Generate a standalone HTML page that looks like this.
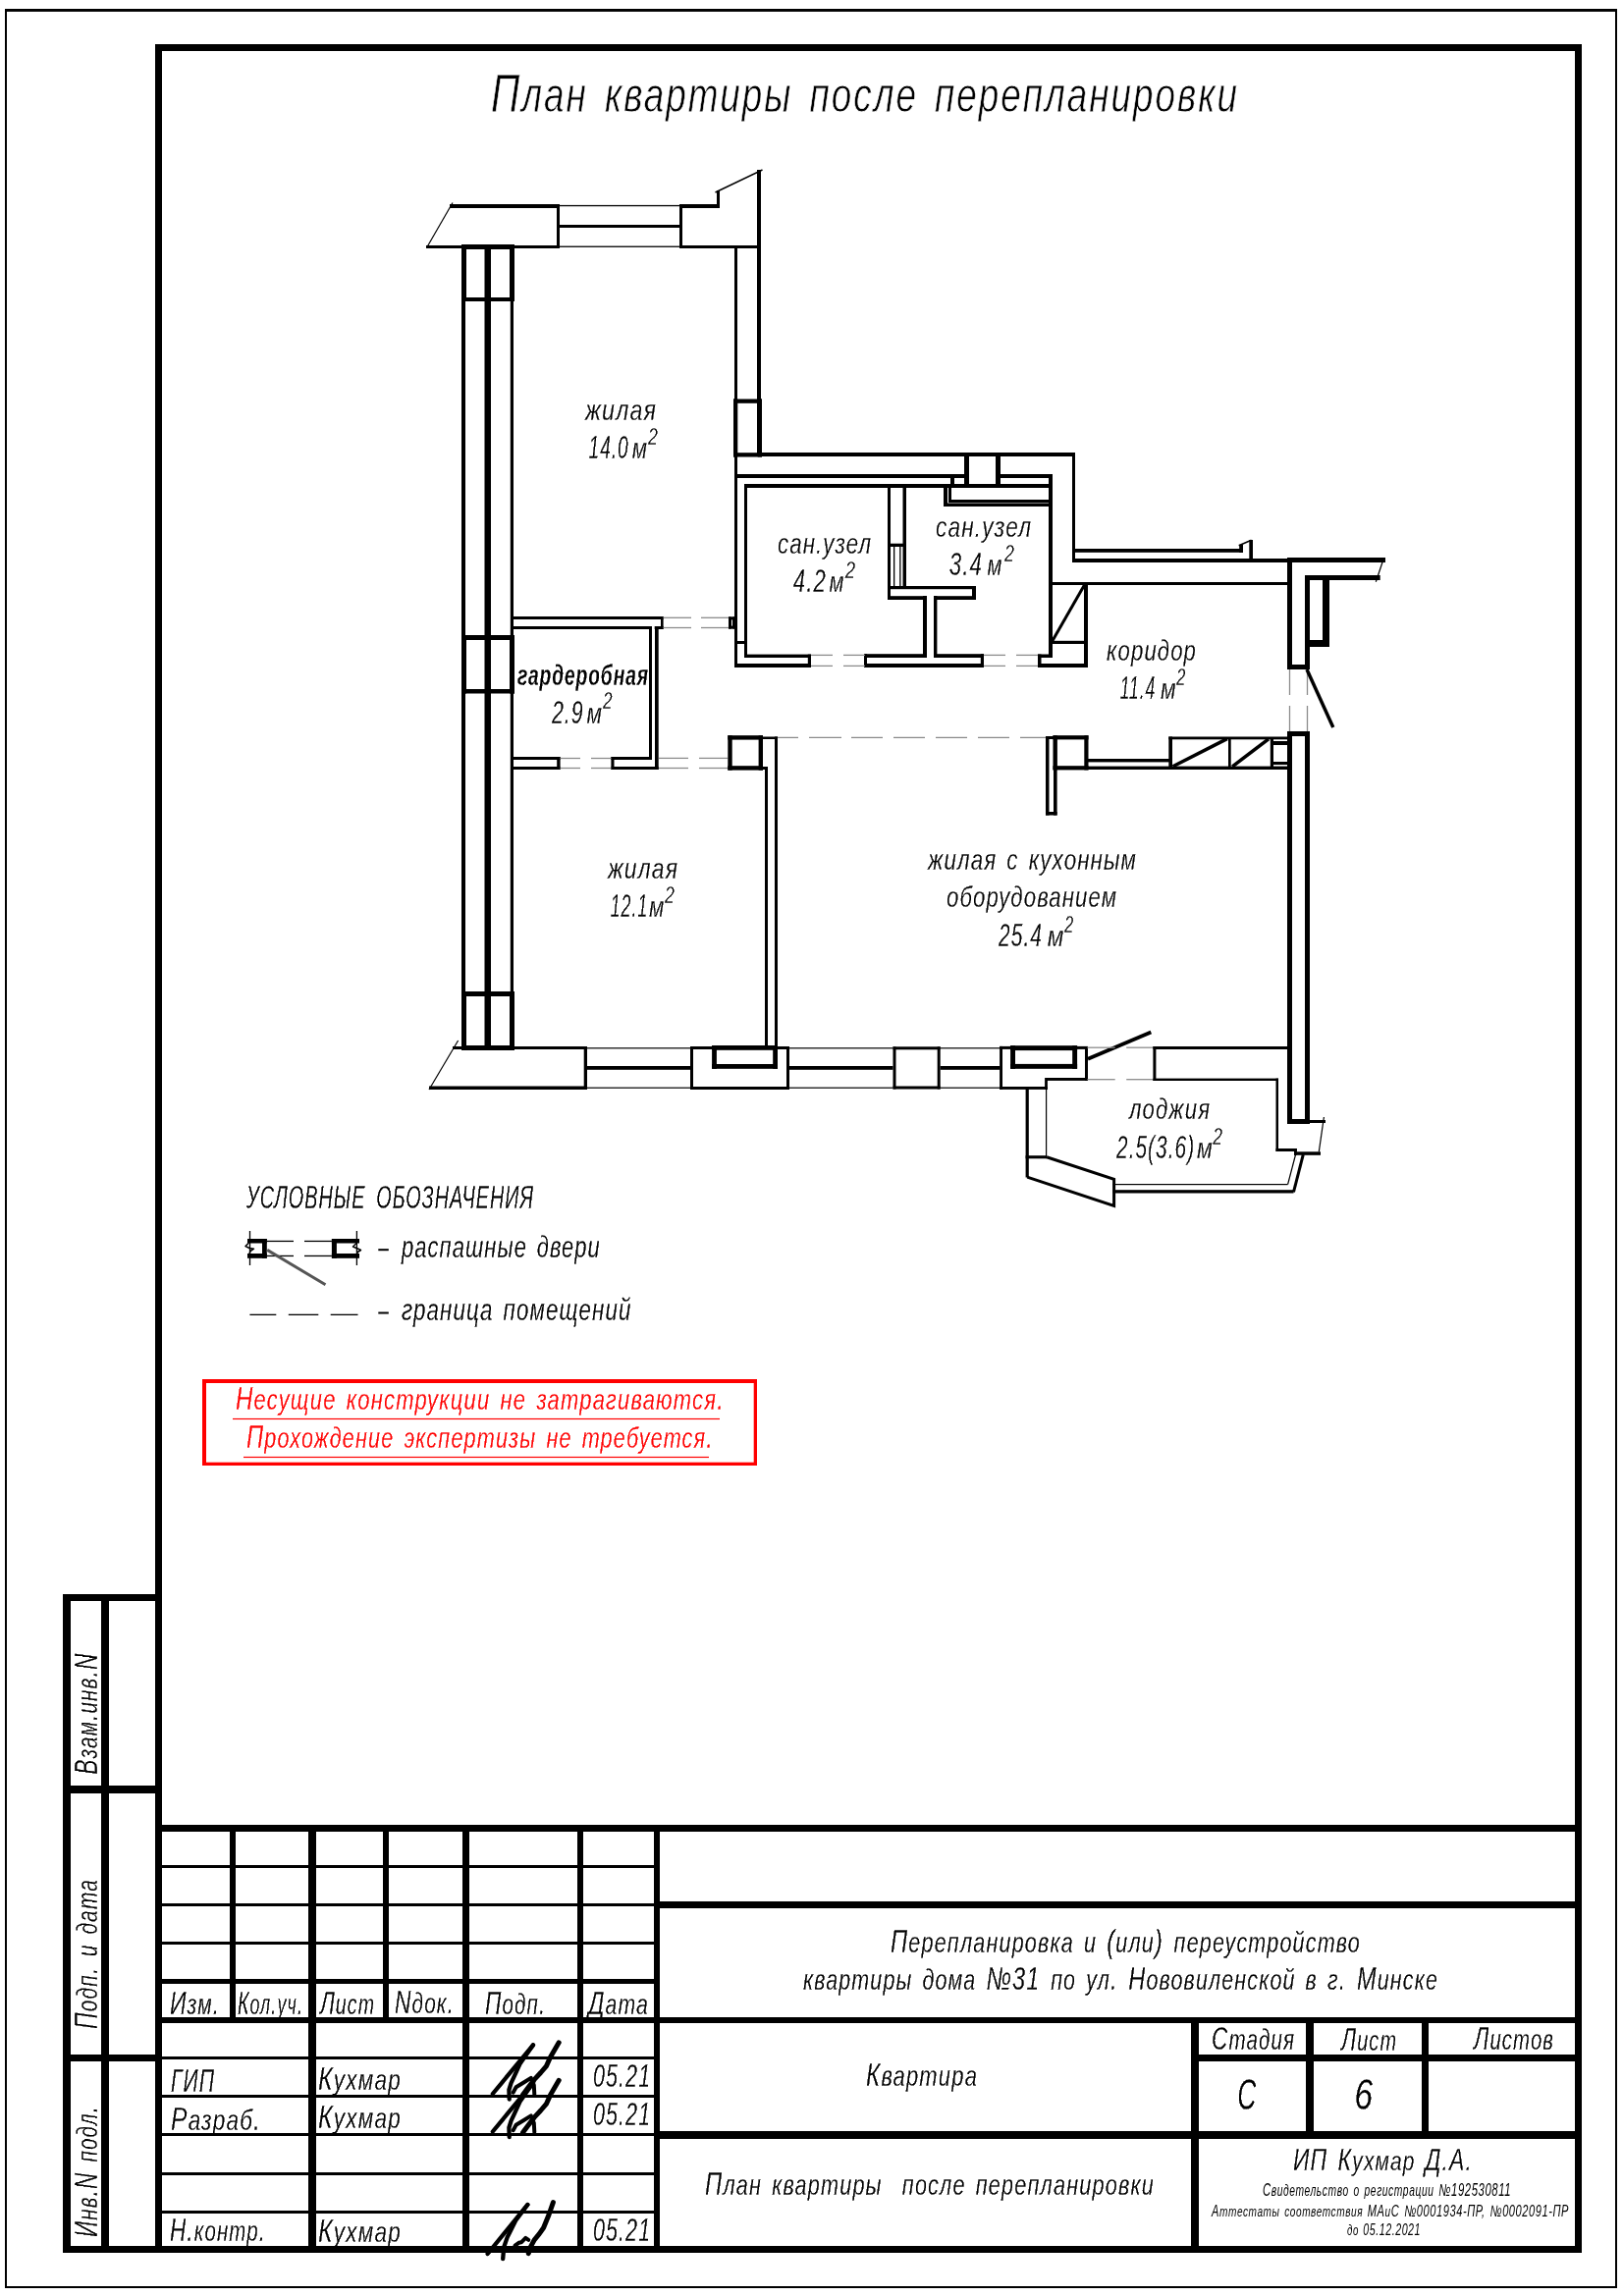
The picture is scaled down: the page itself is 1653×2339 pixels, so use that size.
<!DOCTYPE html>
<html><head><meta charset="utf-8"><title>План квартиры после перепланировки</title>
<style>html,body{margin:0;padding:0;background:#fff;}svg{display:block;will-change:transform;}
text{font-family:"Liberation Sans",sans-serif;font-style:italic;white-space:pre;letter-spacing:0.05em;word-spacing:0.12em;}</style></head>
<body><svg width="1653" height="2339" viewBox="0 0 1653 2339" shape-rendering="auto">
<rect x="0" y="0" width="1653" height="2339" fill="#fff"/>
<defs><filter id="bin" x="0" y="0" width="1653" height="2339" filterUnits="userSpaceOnUse" color-interpolation-filters="sRGB"><feComponentTransfer><feFuncA type="discrete" tableValues="0 0 1 1"/></feComponentTransfer></filter></defs><g filter="url(#bin)">
<text x="499.99" y="114" font-size="55" font-weight="normal" fill="#000" stroke="#fff" stroke-width="0.8" textLength="762.03" lengthAdjust="spacingAndGlyphs">П<tspan font-size="50.05">лан квартиры после перепланировки</tspan></text>
<text x="172.88" y="2052" font-size="33" font-weight="normal" fill="#000" stroke="#fff" stroke-width="0.3" textLength="51.5" lengthAdjust="spacingAndGlyphs">И<tspan font-size="30.03">зм</tspan>.</text>
<text x="241.93" y="2052" font-size="33" font-weight="normal" fill="#000" stroke="#fff" stroke-width="0.3" textLength="67.25" lengthAdjust="spacingAndGlyphs">К<tspan font-size="30.03">ол</tspan>.<tspan font-size="30.03">уч</tspan>.</text>
<text x="326.02" y="2052" font-size="33" font-weight="normal" fill="#000" stroke="#fff" stroke-width="0.3" textLength="56.06" lengthAdjust="spacingAndGlyphs">Л<tspan font-size="30.03">ист</tspan></text>
<text x="401.91" y="2051" font-size="33" font-weight="normal" fill="#000" stroke="#fff" stroke-width="0.3" textLength="61.4" lengthAdjust="spacingAndGlyphs">N<tspan font-size="30.03">док</tspan>.</text>
<text x="493.91" y="2052" font-size="33" font-weight="normal" fill="#000" stroke="#fff" stroke-width="0.3" textLength="62.4" lengthAdjust="spacingAndGlyphs">П<tspan font-size="30.03">одп</tspan>.</text>
<text x="598.95" y="2052" font-size="33" font-weight="normal" fill="#000" stroke="#fff" stroke-width="0.3" textLength="62.1" lengthAdjust="spacingAndGlyphs">Д<tspan font-size="30.03">ата</tspan></text>
<text x="173.95" y="2131" font-size="33" font-weight="normal" fill="#000" stroke="#fff" stroke-width="0.3" textLength="45.12" lengthAdjust="spacingAndGlyphs">ГИП</text>
<text x="173.94" y="2170" font-size="33" font-weight="normal" fill="#000" stroke="#fff" stroke-width="0.3" textLength="92.28" lengthAdjust="spacingAndGlyphs">Р<tspan font-size="30.03">азраб</tspan>.</text>
<text x="172.94" y="2283" font-size="33" font-weight="normal" fill="#000" stroke="#fff" stroke-width="0.3" textLength="98.28" lengthAdjust="spacingAndGlyphs">Н.<tspan font-size="30.03">контр</tspan>.</text>
<text x="323.96" y="2129" font-size="33" font-weight="normal" fill="#000" stroke="#fff" stroke-width="0.3" textLength="85.11" lengthAdjust="spacingAndGlyphs">К<tspan font-size="30.03">ухмар</tspan></text>
<text x="323.96" y="2168" font-size="33" font-weight="normal" fill="#000" stroke="#fff" stroke-width="0.3" textLength="85.11" lengthAdjust="spacingAndGlyphs">К<tspan font-size="30.03">ухмар</tspan></text>
<text x="323.96" y="2284" font-size="33" font-weight="normal" fill="#000" stroke="#fff" stroke-width="0.3" textLength="85.11" lengthAdjust="spacingAndGlyphs">К<tspan font-size="30.03">ухмар</tspan></text>
<text x="603.92" y="2126" font-size="33" font-weight="normal" fill="#000" stroke="#fff" stroke-width="0.3" textLength="59.29" lengthAdjust="spacingAndGlyphs">05.21</text>
<text x="603.92" y="2164.5" font-size="33" font-weight="normal" fill="#000" stroke="#fff" stroke-width="0.3" textLength="59.29" lengthAdjust="spacingAndGlyphs">05.21</text>
<text x="603.92" y="2283" font-size="33" font-weight="normal" fill="#000" stroke="#fff" stroke-width="0.3" textLength="59.29" lengthAdjust="spacingAndGlyphs">05.21</text>
<text x="906.99" y="1989" font-size="33" font-weight="normal" fill="#000" stroke="#fff" stroke-width="0.3" textLength="479.01" lengthAdjust="spacingAndGlyphs">П<tspan font-size="30.03">ерепланировка и </tspan>(<tspan font-size="30.03">или</tspan>) <tspan font-size="30.03">переустройство</tspan></text>
<text x="818.0" y="2027" font-size="33" font-weight="normal" fill="#000" stroke="#fff" stroke-width="0.3" textLength="647.02" lengthAdjust="spacingAndGlyphs"><tspan font-size="30.03">квартиры дома </tspan>№31 <tspan font-size="30.03">по ул</tspan>. Н<tspan font-size="30.03">ововиленской в г</tspan>. М<tspan font-size="30.03">инске</tspan></text>
<text x="1233.95" y="2088" font-size="33" font-weight="normal" fill="#000" stroke="#fff" stroke-width="0.3" textLength="85.1" lengthAdjust="spacingAndGlyphs">С<tspan font-size="30.03">тадия</tspan></text>
<text x="1366.02" y="2089" font-size="33" font-weight="normal" fill="#000" stroke="#fff" stroke-width="0.3" textLength="57.06" lengthAdjust="spacingAndGlyphs">Л<tspan font-size="30.03">ист</tspan></text>
<text x="1501.01" y="2088" font-size="33" font-weight="normal" fill="#000" stroke="#fff" stroke-width="0.3" textLength="82.05" lengthAdjust="spacingAndGlyphs">Л<tspan font-size="30.03">истов</tspan></text>
<text x="1260.24" y="2149" font-size="45" font-weight="normal" fill="#000" stroke="#fff" stroke-width="0.3" textLength="20.49" lengthAdjust="spacingAndGlyphs">С</text>
<text x="1379.41" y="2148.7" font-size="44" font-weight="normal" fill="#000" stroke="#fff" stroke-width="0.3" textLength="20.16" lengthAdjust="spacingAndGlyphs">6</text>
<text x="881.97" y="2125" font-size="33" font-weight="normal" fill="#000" stroke="#fff" stroke-width="0.3" textLength="114.08" lengthAdjust="spacingAndGlyphs">К<tspan font-size="30.03">вартира</tspan></text>
<text x="717.99" y="2236" font-size="33" font-weight="normal" fill="#000" stroke="#fff" stroke-width="0.3" textLength="458.02" lengthAdjust="spacingAndGlyphs">П<tspan font-size="30.03">лан квартиры  после перепланировки</tspan></text>
<text x="1316.97" y="2211" font-size="31" font-weight="normal" fill="#000" stroke="#fff" stroke-width="0.3" textLength="183.12" lengthAdjust="spacingAndGlyphs">ИП К<tspan font-size="28.21">ухмар </tspan>Д.А.</text>
<text x="595.97" y="428" font-size="30" font-weight="normal" fill="#000" stroke="#fff" stroke-width="0.35" textLength="73.18" lengthAdjust="spacingAndGlyphs">жилая</text>
<text x="599.6" y="467" font-size="33.5" font-weight="normal" fill="#000" stroke="#fff" stroke-width="0.35" textLength="41.0" lengthAdjust="spacingAndGlyphs">14.0</text>
<text x="643.63" y="467" font-size="30" font-weight="normal" fill="#000" stroke="#fff" stroke-width="0.35" textLength="16.33" lengthAdjust="spacingAndGlyphs">м</text>
<text x="660.0" y="453" font-size="23" font-weight="normal" fill="#000" stroke="#fff" stroke-width="0.3" textLength="10.72" lengthAdjust="spacingAndGlyphs">2</text>
<text x="791.97" y="564" font-size="30" font-weight="normal" fill="#000" stroke="#fff" stroke-width="0.35" textLength="96.12" lengthAdjust="spacingAndGlyphs">сан.узел</text>
<text x="807.83" y="603" font-size="33.5" font-weight="normal" fill="#000" stroke="#fff" stroke-width="0.35" textLength="34.09" lengthAdjust="spacingAndGlyphs">4.2</text>
<text x="844.59" y="603" font-size="30" font-weight="normal" fill="#000" stroke="#fff" stroke-width="0.35" textLength="16.03" lengthAdjust="spacingAndGlyphs">м</text>
<text x="860.69" y="589.1" font-size="23" font-weight="normal" fill="#000" stroke="#fff" stroke-width="0.3" textLength="11.23" lengthAdjust="spacingAndGlyphs">2</text>
<text x="952.97" y="547" font-size="30" font-weight="normal" fill="#000" stroke="#fff" stroke-width="0.35" textLength="98.1" lengthAdjust="spacingAndGlyphs">сан.узел</text>
<text x="966.76" y="586" font-size="33.5" font-weight="normal" fill="#000" stroke="#fff" stroke-width="0.35" textLength="34.26" lengthAdjust="spacingAndGlyphs">3.4</text>
<text x="1005.59" y="586" font-size="30" font-weight="normal" fill="#000" stroke="#fff" stroke-width="0.35" textLength="16.03" lengthAdjust="spacingAndGlyphs">м</text>
<text x="1023.1" y="571.9" font-size="23" font-weight="normal" fill="#000" stroke="#fff" stroke-width="0.3" textLength="10.72" lengthAdjust="spacingAndGlyphs">2</text>
<text x="526.98" y="698" font-size="30" font-weight="bold" fill="#000" stroke="#fff" stroke-width="0.35" textLength="134.05" lengthAdjust="spacingAndGlyphs">гардеробная</text>
<text x="561.9" y="737" font-size="33.5" font-weight="normal" fill="#000" stroke="#fff" stroke-width="0.35" textLength="32.93" lengthAdjust="spacingAndGlyphs">2.9</text>
<text x="597.46" y="737" font-size="30" font-weight="normal" fill="#000" stroke="#fff" stroke-width="0.35" textLength="16.63" lengthAdjust="spacingAndGlyphs">м</text>
<text x="614.1" y="721.9" font-size="23" font-weight="normal" fill="#000" stroke="#fff" stroke-width="0.3" textLength="10.49" lengthAdjust="spacingAndGlyphs">2</text>
<text x="1126.98" y="672.5" font-size="30" font-weight="normal" fill="#000" stroke="#fff" stroke-width="0.35" textLength="92.08" lengthAdjust="spacingAndGlyphs">коридор</text>
<text x="1140.83" y="711.8" font-size="33.5" font-weight="normal" fill="#000" stroke="#fff" stroke-width="0.35" textLength="36.17" lengthAdjust="spacingAndGlyphs">11.4</text>
<text x="1181.96" y="711.8" font-size="30" font-weight="normal" fill="#000" stroke="#fff" stroke-width="0.35" textLength="16.73" lengthAdjust="spacingAndGlyphs">м</text>
<text x="1198.09" y="697.9" font-size="23" font-weight="normal" fill="#000" stroke="#fff" stroke-width="0.3" textLength="10.25" lengthAdjust="spacingAndGlyphs">2</text>
<text x="618.97" y="895" font-size="30" font-weight="normal" fill="#000" stroke="#fff" stroke-width="0.35" textLength="72.1" lengthAdjust="spacingAndGlyphs">жилая</text>
<text x="621.81" y="933.7" font-size="33.5" font-weight="normal" fill="#000" stroke="#fff" stroke-width="0.35" textLength="38.28" lengthAdjust="spacingAndGlyphs">12.1</text>
<text x="660.91" y="933.7" font-size="30" font-weight="normal" fill="#000" stroke="#fff" stroke-width="0.35" textLength="16.42" lengthAdjust="spacingAndGlyphs">м</text>
<text x="677.1" y="919.9" font-size="23" font-weight="normal" fill="#000" stroke="#fff" stroke-width="0.3" textLength="10.72" lengthAdjust="spacingAndGlyphs">2</text>
<text x="945.0" y="886" font-size="30" font-weight="normal" fill="#000" stroke="#fff" stroke-width="0.35" textLength="213.03" lengthAdjust="spacingAndGlyphs">жилая с кухонным</text>
<text x="963.98" y="924.3" font-size="30" font-weight="normal" fill="#000" stroke="#fff" stroke-width="0.35" textLength="174.06" lengthAdjust="spacingAndGlyphs">оборудованием</text>
<text x="1017.0" y="963.8" font-size="33.5" font-weight="normal" fill="#000" stroke="#fff" stroke-width="0.35" textLength="45.0" lengthAdjust="spacingAndGlyphs">25.4</text>
<text x="1066.73" y="963.8" font-size="30" font-weight="normal" fill="#000" stroke="#fff" stroke-width="0.35" textLength="17.82" lengthAdjust="spacingAndGlyphs">м</text>
<text x="1084.0" y="950" font-size="23" font-weight="normal" fill="#000" stroke="#fff" stroke-width="0.3" textLength="10.12" lengthAdjust="spacingAndGlyphs">2</text>
<text x="1149.98" y="1139.5" font-size="30" font-weight="normal" fill="#000" stroke="#fff" stroke-width="0.35" textLength="83.13" lengthAdjust="spacingAndGlyphs">лоджия</text>
<text x="1137.0" y="1179.8" font-size="33.5" font-weight="normal" fill="#000" stroke="#fff" stroke-width="0.35" textLength="80.13" lengthAdjust="spacingAndGlyphs">2.5(3.6)</text>
<text x="1218.96" y="1179.8" font-size="30" font-weight="normal" fill="#000" stroke="#fff" stroke-width="0.35" textLength="16.95" lengthAdjust="spacingAndGlyphs">м</text>
<text x="1235.26" y="1166.1" font-size="23" font-weight="normal" fill="#000" stroke="#fff" stroke-width="0.3" textLength="10.57" lengthAdjust="spacingAndGlyphs">2</text>
<text x="250.99" y="1230.5" font-size="33.5" font-weight="normal" fill="#000" stroke="#fff" stroke-width="0.3" style="word-spacing:0.22em" textLength="293.02" lengthAdjust="spacingAndGlyphs">УСЛОВНЫЕ ОБОЗНАЧЕНИЯ</text>
<text x="409.0" y="1281" font-size="31" font-weight="normal" fill="#000" stroke="#fff" stroke-width="0.3" textLength="202.85" lengthAdjust="spacingAndGlyphs">распашные двери</text>
<text x="408.99" y="1344.5" font-size="31" font-weight="normal" fill="#000" stroke="#fff" stroke-width="0.3" textLength="234.45" lengthAdjust="spacingAndGlyphs">граница помещений</text>
<text x="239.99" y="1436" font-size="33" font-weight="normal" fill="#f00" stroke="#fff" stroke-width="0.3" textLength="498.06" lengthAdjust="spacingAndGlyphs">Н<tspan font-size="30.03">есущие конструкции не затрагиваются</tspan>.</text>
<text x="250.99" y="1475" font-size="33" font-weight="normal" fill="#f00" stroke="#fff" stroke-width="0.3" textLength="476.06" lengthAdjust="spacingAndGlyphs">П<tspan font-size="30.03">рохождение экспертизы не требуется</tspan>.</text>
<text transform="translate(99,1807.6949719913707) rotate(-90)" x="0" y="0" font-size="33" font-weight="normal" fill="#000" stroke="#fff" stroke-width="0.3" textLength="124.22" lengthAdjust="spacingAndGlyphs">В<tspan font-size="30.03">зам</tspan>.<tspan font-size="30.03">инв</tspan>.N</text>
<text transform="translate(99,2067.006438692137) rotate(-90)" x="0" y="0" font-size="33" font-weight="normal" fill="#000" stroke="#fff" stroke-width="0.3" textLength="153.06" lengthAdjust="spacingAndGlyphs">П<tspan font-size="30.03">одп</tspan>. <tspan font-size="30.03">и дата</tspan></text>
<text transform="translate(99,2279.0963912821094) rotate(-90)" x="0" y="0" font-size="33" font-weight="normal" fill="#000" stroke="#fff" stroke-width="0.3" textLength="134.23" lengthAdjust="spacingAndGlyphs">И<tspan font-size="30.03">нв</tspan>.N <tspan font-size="30.03">подл</tspan>.</text>
</g>
<text x="1285.99" y="2237" font-size="17.5" font-weight="normal" fill="#000" textLength="253.03" lengthAdjust="spacingAndGlyphs">С<tspan font-size="15.93">видетельство о регистрации </tspan>№192530811</text>
<text x="1234.0" y="2258" font-size="16.5" font-weight="normal" fill="#000" textLength="364.0" lengthAdjust="spacingAndGlyphs">А<tspan font-size="15.02">ттестаты соответствия </tspan>МА<tspan font-size="15.02">и</tspan>С №0001934-ПР, №0002091-ПР</text>
<text x="1372.0" y="2277" font-size="16" font-weight="normal" fill="#000" textLength="75.06" lengthAdjust="spacingAndGlyphs"><tspan font-size="14.56">до </tspan>05.12.2021</text>
<rect x="5" y="9" width="1642" height="2.9" fill="#000"/>
<rect x="5" y="9" width="2" height="2322" fill="#000"/>
<rect x="1645" y="9" width="2" height="2322" fill="#000"/>
<rect x="5" y="2329" width="1642" height="2" fill="#000"/>
<rect x="158" y="45" width="1453" height="7" fill="#000"/>
<rect x="158" y="45" width="7" height="2250" fill="#000"/>
<rect x="1604" y="45" width="7" height="2250" fill="#000"/>
<rect x="158" y="2288" width="1453" height="7" fill="#000"/>
<rect x="64" y="1624" width="8" height="671" fill="#000"/>
<rect x="103" y="1624" width="8" height="671" fill="#000"/>
<rect x="64" y="1624" width="101" height="7" fill="#000"/>
<rect x="64" y="1819" width="101" height="8" fill="#000"/>
<rect x="64" y="2093" width="101" height="7" fill="#000"/>
<rect x="64" y="2288" width="101" height="7" fill="#000"/>
<rect x="158" y="1859" width="1453" height="7" fill="#000"/>
<rect x="234" y="1859" width="6" height="202" fill="#000"/>
<rect x="314" y="1859" width="8" height="436" fill="#000"/>
<rect x="390" y="1859" width="6" height="202" fill="#000"/>
<rect x="471" y="1859" width="7" height="436" fill="#000"/>
<rect x="588" y="1859" width="6" height="436" fill="#000"/>
<rect x="666" y="1859" width="6" height="436" fill="#000"/>
<rect x="165" y="1900" width="501" height="3" fill="#000"/>
<rect x="165" y="1939" width="501" height="3" fill="#000"/>
<rect x="165" y="1978" width="501" height="3" fill="#000"/>
<rect x="165" y="2016" width="507" height="5" fill="#000"/>
<rect x="165" y="2055" width="1439" height="6" fill="#000"/>
<rect x="165" y="2095" width="501" height="3" fill="#000"/>
<rect x="165" y="2134" width="501" height="3" fill="#000"/>
<rect x="165" y="2173" width="501" height="3" fill="#000"/>
<rect x="165" y="2213" width="501" height="3" fill="#000"/>
<rect x="165" y="2252" width="501" height="3" fill="#000"/>
<rect x="672" y="1937" width="932" height="7" fill="#000"/>
<rect x="1221" y="2093" width="383" height="7" fill="#000"/>
<rect x="672" y="2171" width="932" height="8" fill="#000"/>
<rect x="1213" y="2055" width="8" height="240" fill="#000"/>
<rect x="1330" y="2055" width="8" height="116" fill="#000"/>
<rect x="1448" y="2055" width="7" height="116" fill="#000"/>
<polyline points="501.8,2133 543,2083.3" fill="none" stroke="#000" stroke-width="4.3" stroke-linecap="round" stroke-linejoin="round"/>
<polyline points="518.7,2138.5 518.4,2129 520.6,2121.8 524.6,2113.4 529.5,2102.6 543,2083.3" fill="none" stroke="#000" stroke-width="4.3" stroke-linecap="round" stroke-linejoin="round"/>
<polyline points="522.6,2131.7 525.6,2126.3 533.4,2121.5 540.8,2116.9 543.8,2124.3 544.3,2133.6" fill="none" stroke="#000" stroke-width="4" stroke-linecap="round" stroke-linejoin="round"/>
<polyline points="532.5,2134 537.9,2126.7 544.3,2118.4 550.7,2111.5 556.6,2104.6 560.5,2095.7 569.2,2080.8" fill="none" stroke="#000" stroke-width="5" stroke-linecap="round" stroke-linejoin="round"/>
<polyline points="501.8,2171.5 543,2121.8" fill="none" stroke="#000" stroke-width="4.3" stroke-linecap="round" stroke-linejoin="round"/>
<polyline points="518.7,2177.0 518.4,2167.5 520.6,2160.3 524.6,2151.9 529.5,2141.1 543,2121.8" fill="none" stroke="#000" stroke-width="4.3" stroke-linecap="round" stroke-linejoin="round"/>
<polyline points="522.6,2170.2 525.6,2164.8 533.4,2160.0 540.8,2155.4 543.8,2162.8 544.3,2172.1" fill="none" stroke="#000" stroke-width="4" stroke-linecap="round" stroke-linejoin="round"/>
<polyline points="532.5,2172.5 537.9,2165.2 544.3,2156.9 550.7,2150.0 556.6,2143.1 560.5,2134.2 569.2,2119.3" fill="none" stroke="#000" stroke-width="5" stroke-linecap="round" stroke-linejoin="round"/>
<polyline points="496.6,2296 537.3,2246" fill="none" stroke="#000" stroke-width="4.3" stroke-linecap="round" stroke-linejoin="round"/>
<polyline points="512.2,2301 513.2,2289.2 516.6,2279.4 521.5,2269.5 525.5,2261.6 537.3,2246" fill="none" stroke="#000" stroke-width="4.3" stroke-linecap="round" stroke-linejoin="round"/>
<polyline points="524.5,2287.7 528.4,2284.8 530.9,2284.3 535.3,2279.8 538.3,2281.8" fill="none" stroke="#000" stroke-width="4" stroke-linecap="round" stroke-linejoin="round"/>
<polyline points="538.3,2295.6 540.3,2289.2 544.2,2281.8 549.1,2275.9 553.6,2269.5 559,2256.2 563.4,2243.6" fill="none" stroke="#000" stroke-width="5" stroke-linecap="round" stroke-linejoin="round"/>
<rect x="458" y="208" width="112" height="4" fill="#000"/>
<line x1="461" y1="206.5" x2="434.5" y2="252.5" stroke="#000" stroke-width="1.2" stroke-linecap="butt"/>
<rect x="434" y="250" width="136" height="3" fill="#000"/>
<rect x="567" y="208" width="3" height="45" fill="#000"/>
<rect x="570" y="208.9" width="122" height="1.3" fill="#000"/>
<rect x="570" y="229" width="122" height="3" fill="#000"/>
<rect x="570" y="250.6" width="122" height="1.3" fill="#000"/>
<rect x="692" y="208" width="3" height="45" fill="#000"/>
<rect x="692" y="208" width="41" height="4" fill="#000"/>
<rect x="730" y="194" width="3" height="18" fill="#000"/>
<line x1="728.5" y1="196" x2="776.5" y2="173" stroke="#000" stroke-width="1.5" stroke-linecap="butt"/>
<rect x="771" y="173" width="4" height="292" fill="#000"/>
<rect x="692" y="250" width="79" height="3" fill="#000"/>
<rect x="748" y="253" width="3" height="154" fill="#000"/>
<rect x="470" y="249" width="54" height="5" fill="#000"/>
<rect x="470" y="303" width="54" height="4" fill="#000"/>
<rect x="470" y="647" width="54" height="5" fill="#000"/>
<rect x="470" y="702" width="54" height="4.5" fill="#000"/>
<rect x="470" y="1010" width="54" height="5" fill="#000"/>
<rect x="470" y="1065" width="54" height="5" fill="#000"/>
<rect x="470" y="249" width="5" height="58" fill="#000"/>
<rect x="519" y="249" width="5" height="58" fill="#000"/>
<rect x="470" y="647" width="5" height="59.5" fill="#000"/>
<rect x="519" y="647" width="5" height="59.5" fill="#000"/>
<rect x="470" y="1010" width="5" height="60" fill="#000"/>
<rect x="519" y="1010" width="5" height="60" fill="#000"/>
<rect x="470" y="254" width="4" height="812" fill="#000"/>
<rect x="493.5" y="254" width="6.5" height="812" fill="#000"/>
<rect x="519.8" y="254" width="3.2" height="812" fill="#000"/>
<rect x="747" y="406.5" width="29" height="4.3" fill="#000"/>
<rect x="747" y="461.2" width="29" height="4.3" fill="#000"/>
<rect x="747" y="406.5" width="4.3" height="59.0" fill="#000"/>
<rect x="771.7" y="406.5" width="4.3" height="59.0" fill="#000"/>
<rect x="775" y="461" width="320" height="4" fill="#000"/>
<rect x="1092" y="461" width="3" height="111.5" fill="#000"/>
<rect x="1095" y="559" width="171" height="3.8" fill="#000"/>
<rect x="1262.2" y="554.8" width="3.8" height="8.2" fill="#000"/>
<line x1="1261.7" y1="555.8" x2="1274.5" y2="550.3" stroke="#000" stroke-width="1.5" stroke-linecap="butt"/>
<rect x="1272.3" y="550" width="3.7" height="23" fill="#000"/>
<rect x="1092" y="569" width="219" height="4" fill="#000"/>
<rect x="751" y="483" width="231" height="4" fill="#000"/>
<rect x="1019" y="483" width="53" height="4" fill="#000"/>
<rect x="1068" y="483" width="4" height="187" fill="#000"/>
<rect x="982" y="461" width="5" height="32" fill="#000"/>
<rect x="1014" y="461" width="5" height="32" fill="#000"/>
<rect x="968" y="487" width="4" height="6" fill="#000"/>
<rect x="758" y="493" width="310" height="4" fill="#000"/>
<rect x="748" y="465" width="3" height="215" fill="#000"/>
<rect x="758" y="493" width="3" height="177" fill="#000"/>
<rect x="961" y="497" width="4" height="19" fill="#000"/>
<rect x="961" y="512.5" width="107" height="3.5" fill="#000"/>
<rect x="966" y="497" width="3" height="15" fill="#000"/>
<rect x="966" y="509" width="102" height="3" fill="#000"/>
<rect x="904" y="497" width="3" height="114" fill="#000"/>
<rect x="919.5" y="497" width="3.5" height="103" fill="#000"/>
<rect x="907" y="553.7" width="13" height="3.3" fill="#000"/>
<rect x="910" y="557" width="1.3" height="40" fill="#000"/>
<rect x="916.2" y="557" width="1.3" height="40" fill="#000"/>
<rect x="904" y="597" width="90" height="3.2" fill="#000"/>
<rect x="990" y="597" width="4" height="14" fill="#000"/>
<rect x="904" y="607.2" width="40" height="3.8" fill="#000"/>
<rect x="951" y="607.2" width="43" height="3.8" fill="#000"/>
<rect x="940" y="607" width="4" height="63" fill="#000"/>
<rect x="951" y="607" width="3.4" height="63" fill="#000"/>
<rect x="880" y="666.2" width="64" height="3.8" fill="#000"/>
<rect x="951" y="666.2" width="51" height="3.8" fill="#000"/>
<rect x="880" y="676" width="122" height="4" fill="#000"/>
<rect x="880" y="666.2" width="3" height="13.8" fill="#000"/>
<rect x="998.8" y="666.2" width="3.2" height="13.8" fill="#000"/>
<rect x="758" y="666.6" width="68" height="3.4" fill="#000"/>
<rect x="748" y="676" width="78" height="4" fill="#000"/>
<rect x="822.8" y="666.6" width="3.2" height="13.4" fill="#000"/>
<rect x="751" y="653" width="7" height="3" fill="#000"/>
<rect x="742" y="628.4" width="7" height="3.0" fill="#000"/>
<rect x="742" y="637.6" width="7" height="3.0" fill="#000"/>
<rect x="742" y="628.4" width="3" height="12.2" fill="#000"/>
<rect x="746" y="628.4" width="3" height="12.2" fill="#000"/>
<line x1="826" y1="667.4" x2="848" y2="667.4" stroke="#8c8c8c" stroke-width="1.3" stroke-linecap="butt"/>
<line x1="859" y1="667.4" x2="881" y2="667.4" stroke="#8c8c8c" stroke-width="1.3" stroke-linecap="butt"/>
<line x1="826" y1="678.4" x2="848" y2="678.4" stroke="#8c8c8c" stroke-width="1.3" stroke-linecap="butt"/>
<line x1="859" y1="678.4" x2="881" y2="678.4" stroke="#8c8c8c" stroke-width="1.3" stroke-linecap="butt"/>
<line x1="1002" y1="667.4" x2="1024" y2="667.4" stroke="#8c8c8c" stroke-width="1.3" stroke-linecap="butt"/>
<line x1="1035" y1="667.4" x2="1057" y2="667.4" stroke="#8c8c8c" stroke-width="1.3" stroke-linecap="butt"/>
<line x1="1002" y1="678.4" x2="1024" y2="678.4" stroke="#8c8c8c" stroke-width="1.3" stroke-linecap="butt"/>
<line x1="1035" y1="678.4" x2="1057" y2="678.4" stroke="#8c8c8c" stroke-width="1.3" stroke-linecap="butt"/>
<rect x="1057" y="666.5" width="15" height="3.5" fill="#000"/>
<rect x="1057" y="666.5" width="3.5" height="13.5" fill="#000"/>
<rect x="1057" y="676" width="51" height="4" fill="#000"/>
<rect x="1104" y="593.5" width="4" height="86.5" fill="#000"/>
<rect x="1072" y="593" width="239" height="3" fill="#000"/>
<rect x="1072" y="652.8" width="32" height="3.2" fill="#000"/>
<line x1="1071.5" y1="653.5" x2="1105" y2="595" stroke="#000" stroke-width="3" stroke-linecap="butt"/>
<rect x="523" y="628" width="152.6" height="3" fill="#000"/>
<rect x="523" y="638" width="141" height="3" fill="#000"/>
<rect x="673" y="628" width="2.6" height="13" fill="#000"/>
<rect x="666.7" y="638" width="8.9" height="3" fill="#000"/>
<rect x="661" y="638" width="3" height="135.8" fill="#000"/>
<rect x="667" y="638" width="3.7" height="146" fill="#000"/>
<rect x="523" y="771" width="47.6" height="3" fill="#000"/>
<rect x="622.4" y="771" width="41.6" height="3" fill="#000"/>
<rect x="523" y="781" width="47.6" height="3" fill="#000"/>
<rect x="622.4" y="781" width="48.3" height="3" fill="#000"/>
<rect x="567.2" y="771" width="3.4" height="13" fill="#000"/>
<rect x="622.4" y="771" width="3.1" height="13" fill="#000"/>
<line x1="570.6" y1="772.5" x2="591" y2="772.5" stroke="#8c8c8c" stroke-width="1.3" stroke-linecap="butt"/>
<line x1="602" y1="772.5" x2="622.4" y2="772.5" stroke="#8c8c8c" stroke-width="1.3" stroke-linecap="butt"/>
<line x1="570.6" y1="782.5" x2="591" y2="782.5" stroke="#8c8c8c" stroke-width="1.3" stroke-linecap="butt"/>
<line x1="602" y1="782.5" x2="622.4" y2="782.5" stroke="#8c8c8c" stroke-width="1.3" stroke-linecap="butt"/>
<line x1="671" y1="772.4" x2="701" y2="772.4" stroke="#8c8c8c" stroke-width="1.3" stroke-linecap="butt"/>
<line x1="712" y1="772.4" x2="741.3" y2="772.4" stroke="#8c8c8c" stroke-width="1.3" stroke-linecap="butt"/>
<line x1="671" y1="782.5" x2="701" y2="782.5" stroke="#8c8c8c" stroke-width="1.3" stroke-linecap="butt"/>
<line x1="712" y1="782.5" x2="741.3" y2="782.5" stroke="#8c8c8c" stroke-width="1.3" stroke-linecap="butt"/>
<line x1="675.6" y1="629.3" x2="704" y2="629.3" stroke="#8c8c8c" stroke-width="1.3" stroke-linecap="butt"/>
<line x1="714" y1="629.3" x2="742" y2="629.3" stroke="#8c8c8c" stroke-width="1.3" stroke-linecap="butt"/>
<line x1="675.6" y1="639.5" x2="704" y2="639.5" stroke="#8c8c8c" stroke-width="1.3" stroke-linecap="butt"/>
<line x1="714" y1="639.5" x2="742" y2="639.5" stroke="#8c8c8c" stroke-width="1.3" stroke-linecap="butt"/>
<rect x="741.3" y="749.2" width="35.7" height="4.4" fill="#000"/>
<rect x="741.3" y="780.2" width="35.7" height="4.4" fill="#000"/>
<rect x="741.3" y="749.2" width="4.4" height="35.4" fill="#000"/>
<rect x="772.6" y="749.2" width="4.4" height="35.4" fill="#000"/>
<rect x="777" y="750.5" width="15" height="2.5" fill="#000"/>
<rect x="789" y="750.5" width="3" height="315.5" fill="#000"/>
<rect x="777" y="781" width="5" height="3" fill="#000"/>
<rect x="779" y="781" width="3" height="285" fill="#000"/>
<line x1="792" y1="751.4" x2="813" y2="751.4" stroke="#8c8c8c" stroke-width="1.3" stroke-linecap="butt"/>
<line x1="824" y1="751.4" x2="857" y2="751.4" stroke="#8c8c8c" stroke-width="1.3" stroke-linecap="butt"/>
<line x1="867" y1="751.4" x2="899" y2="751.4" stroke="#8c8c8c" stroke-width="1.3" stroke-linecap="butt"/>
<line x1="910" y1="751.4" x2="942" y2="751.4" stroke="#8c8c8c" stroke-width="1.3" stroke-linecap="butt"/>
<line x1="953" y1="751.4" x2="985" y2="751.4" stroke="#8c8c8c" stroke-width="1.3" stroke-linecap="butt"/>
<line x1="996" y1="751.4" x2="1028" y2="751.4" stroke="#8c8c8c" stroke-width="1.3" stroke-linecap="butt"/>
<line x1="1039" y1="751.4" x2="1065.5" y2="751.4" stroke="#8c8c8c" stroke-width="1.3" stroke-linecap="butt"/>
<rect x="1072.5" y="749.2" width="36.0" height="4.2" fill="#000"/>
<rect x="1072.5" y="780.1999999999999" width="36.0" height="4.2" fill="#000"/>
<rect x="1072.5" y="749.2" width="4.2" height="35.2" fill="#000"/>
<rect x="1104.3" y="749.2" width="4.2" height="35.2" fill="#000"/>
<rect x="1065" y="750" width="3.5" height="80.5" fill="#000"/>
<rect x="1073" y="750" width="3.6" height="80.5" fill="#000"/>
<rect x="1065" y="750" width="11.6" height="3" fill="#000"/>
<rect x="1065" y="827" width="11.6" height="3.5" fill="#000"/>
<rect x="1108" y="773" width="83" height="3.4" fill="#000"/>
<rect x="1108" y="780.6" width="204" height="3.4" fill="#000"/>
<rect x="1190.3" y="750.5" width="121.7" height="2.8" fill="#000"/>
<rect x="1190.3" y="750.5" width="3.7" height="33.5" fill="#000"/>
<rect x="1251" y="753" width="2.7" height="28" fill="#000"/>
<rect x="1293.8" y="753" width="3.2" height="28" fill="#000"/>
<rect x="1297" y="755" width="14" height="4" fill="#000"/>
<rect x="1297" y="776" width="14" height="3" fill="#000"/>
<line x1="1194.6" y1="780.8" x2="1249.8" y2="752.6" stroke="#000" stroke-width="3.5" stroke-linecap="butt"/>
<line x1="1255.2" y1="780.8" x2="1292" y2="752.8" stroke="#000" stroke-width="3.5" stroke-linecap="butt"/>
<rect x="1311" y="745" width="23" height="5" fill="#000"/>
<rect x="1311" y="745" width="5" height="400" fill="#000"/>
<rect x="1329" y="745" width="5" height="400" fill="#000"/>
<rect x="1311" y="1140" width="23" height="5" fill="#000"/>
<line x1="1313.5" y1="682" x2="1313.5" y2="708" stroke="#8c8c8c" stroke-width="1.3" stroke-linecap="butt"/>
<line x1="1313.5" y1="719" x2="1313.5" y2="745" stroke="#8c8c8c" stroke-width="1.3" stroke-linecap="butt"/>
<line x1="1331.5" y1="682" x2="1331.5" y2="708" stroke="#8c8c8c" stroke-width="1.3" stroke-linecap="butt"/>
<line x1="1331.5" y1="719" x2="1331.5" y2="745" stroke="#8c8c8c" stroke-width="1.3" stroke-linecap="butt"/>
<line x1="1331" y1="682" x2="1357.8" y2="741" stroke="#000" stroke-width="3.5" stroke-linecap="butt"/>
<rect x="1311" y="568" width="100" height="5" fill="#000"/>
<rect x="1311" y="568" width="5" height="114" fill="#000"/>
<rect x="1311" y="677" width="23" height="5" fill="#000"/>
<rect x="1329" y="586" width="5" height="96" fill="#000"/>
<rect x="1329" y="586" width="76.7" height="5" fill="#000"/>
<line x1="1408" y1="572.7" x2="1401.3" y2="592.7" stroke="#000" stroke-width="1.2" stroke-linecap="butt"/>
<rect x="1347" y="586" width="7" height="73" fill="#000"/>
<rect x="1334" y="652" width="20" height="7" fill="#000"/>
<rect x="461" y="1066" width="137" height="3" fill="#000"/>
<line x1="466.6" y1="1060" x2="437" y2="1110" stroke="#000" stroke-width="1.2" stroke-linecap="butt"/>
<rect x="437" y="1106.5" width="161" height="3.5" fill="#000"/>
<rect x="594.7" y="1066" width="3.3" height="44" fill="#000"/>
<rect x="598" y="1067.2" width="106" height="1.2" fill="#000"/>
<rect x="598" y="1107.6" width="106" height="1.2" fill="#000"/>
<rect x="598" y="1086" width="106" height="3.8" fill="#000"/>
<rect x="703" y="1066" width="101" height="3" fill="#000"/>
<rect x="703" y="1107" width="101" height="3" fill="#000"/>
<rect x="703" y="1066" width="3" height="44" fill="#000"/>
<rect x="801" y="1066" width="3" height="44" fill="#000"/>
<rect x="725.1" y="1065" width="66.9" height="4.8" fill="#000"/>
<rect x="725.1" y="1084.0" width="66.9" height="4.8" fill="#000"/>
<rect x="725.1" y="1065" width="4.8" height="23.8" fill="#000"/>
<rect x="787.2" y="1065" width="4.8" height="23.8" fill="#000"/>
<rect x="803.5" y="1067.2" width="106.0" height="1.2" fill="#000"/>
<rect x="803.5" y="1107.6" width="106.0" height="1.2" fill="#000"/>
<rect x="803.5" y="1086" width="106.0" height="3.8" fill="#000"/>
<rect x="909.5" y="1066.3" width="48.2" height="3.0" fill="#000"/>
<rect x="909.5" y="1106.5" width="48.2" height="3.0" fill="#000"/>
<rect x="909.5" y="1066.3" width="3.0" height="43.2" fill="#000"/>
<rect x="954.7" y="1066.3" width="3.0" height="43.2" fill="#000"/>
<rect x="957.7" y="1067.2" width="60.7" height="1.2" fill="#000"/>
<rect x="957.7" y="1107.6" width="60.7" height="1.2" fill="#000"/>
<rect x="957.7" y="1086" width="60.7" height="3.8" fill="#000"/>
<rect x="1018.1" y="1065.9" width="89.9" height="3.0" fill="#000"/>
<rect x="1018.1" y="1065.9" width="2.9" height="44.0" fill="#000"/>
<rect x="1105" y="1066.8" width="3" height="34.1" fill="#000"/>
<rect x="1065" y="1098" width="43" height="2.9" fill="#000"/>
<rect x="1064.1" y="1098" width="2.8" height="11.9" fill="#000"/>
<rect x="1018.1" y="1107" width="48.8" height="2.9" fill="#000"/>
<rect x="1029.1" y="1065.2" width="68.0" height="4.9" fill="#000"/>
<rect x="1029.1" y="1083.8999999999999" width="68.0" height="4.9" fill="#000"/>
<rect x="1029.1" y="1065.2" width="4.9" height="23.6" fill="#000"/>
<rect x="1092.1999999999998" y="1065.2" width="4.9" height="23.6" fill="#000"/>
<line x1="1108" y1="1078.8" x2="1172.3" y2="1051.5" stroke="#000" stroke-width="3.8" stroke-linecap="butt"/>
<line x1="1107.4" y1="1067.2" x2="1135.7" y2="1067.2" stroke="#8c8c8c" stroke-width="1.3" stroke-linecap="butt"/>
<line x1="1147.2" y1="1067.2" x2="1174.4" y2="1067.2" stroke="#8c8c8c" stroke-width="1.3" stroke-linecap="butt"/>
<line x1="1107.4" y1="1099.7" x2="1135.7" y2="1099.7" stroke="#8c8c8c" stroke-width="1.3" stroke-linecap="butt"/>
<line x1="1147.2" y1="1099.7" x2="1174.4" y2="1099.7" stroke="#8c8c8c" stroke-width="1.3" stroke-linecap="butt"/>
<rect x="1174.4" y="1066" width="136.6" height="3" fill="#000"/>
<rect x="1174.4" y="1066" width="3.0" height="35" fill="#000"/>
<rect x="1174.4" y="1098.6" width="127.6" height="2.4" fill="#000"/>
<rect x="1299.5" y="1098.6" width="2.5" height="74.4" fill="#000"/>
<rect x="1299.5" y="1170" width="21.3" height="3" fill="#000"/>
<rect x="1318" y="1170" width="2.8" height="6.8" fill="#000"/>
<rect x="1318" y="1173.3" width="27" height="3.5" fill="#000"/>
<rect x="1334" y="1141" width="16" height="3" fill="#000"/>
<line x1="1348.4" y1="1138" x2="1343.3" y2="1173.3" stroke="#000" stroke-width="1.2" stroke-linecap="butt"/>
<rect x="1044.6" y="1109" width="3.2" height="90.5" fill="#000"/>
<rect x="1065" y="1109" width="1.2" height="69" fill="#000"/>
<rect x="1044.6" y="1177.2" width="21.4" height="3.1" fill="#000"/>
<polyline points="1066,1178.8 1134.6,1201.3 1134.6,1228.5 1046.2,1199.2" fill="none" stroke="#000" stroke-width="3" stroke-linecap="butt" stroke-linejoin="miter"/>
<rect x="1133.6" y="1212.2" width="183.9" height="3.3" fill="#000"/>
<rect x="1133.6" y="1206" width="178.0" height="1.2" fill="#000"/>
<line x1="1327.3" y1="1176.2" x2="1317.5" y2="1214.3" stroke="#000" stroke-width="3" stroke-linecap="butt"/>
<line x1="1319.6" y1="1176" x2="1311.6" y2="1206.5" stroke="#000" stroke-width="1.2" stroke-linecap="butt"/>
<rect x="252" y="1262" width="19.8" height="4.5" fill="#000"/>
<rect x="252" y="1277" width="19.8" height="4.8" fill="#000"/>
<rect x="267" y="1262" width="4.8" height="19.8" fill="#000"/>
<rect x="337.9" y="1262" width="28.1" height="4.5" fill="#000"/>
<rect x="337.9" y="1277" width="28.1" height="4.8" fill="#000"/>
<rect x="337.9" y="1262" width="5.0" height="19.8" fill="#000"/>
<line x1="254.5" y1="1254" x2="254.5" y2="1289" stroke="#000" stroke-width="1.3" stroke-linecap="butt"/>
<line x1="363.4" y1="1254" x2="363.4" y2="1289" stroke="#000" stroke-width="1.3" stroke-linecap="butt"/>
<rect x="271.8" y="1263.8" width="27.2" height="1.3" fill="#000"/>
<rect x="310" y="1263.8" width="27.9" height="1.3" fill="#000"/>
<rect x="271.8" y="1278.8" width="27.2" height="1.3" fill="#000"/>
<rect x="310" y="1278.8" width="27.9" height="1.3" fill="#000"/>
<line x1="272.2" y1="1273.4" x2="331.5" y2="1308.7" stroke="#555" stroke-width="3" stroke-linecap="butt"/>
<rect x="254.4" y="1338.7" width="26.9" height="1.3" fill="#000"/>
<rect x="293.8" y="1338.7" width="30.5" height="1.3" fill="#000"/>
<rect x="336.7" y="1338.7" width="27.8" height="1.3" fill="#000"/>
<rect x="385.3" y="1272.2" width="10.5" height="2.0" fill="#000"/>
<rect x="385.3" y="1336.5" width="10.5" height="2.0" fill="#000"/>
<rect x="206" y="1405" width="565" height="4" fill="#f00"/>
<rect x="206" y="1489.7" width="565" height="3.3" fill="#f00"/>
<rect x="206" y="1405" width="4" height="88" fill="#f00"/>
<rect x="767.7" y="1405" width="3.3" height="88" fill="#f00"/>
<rect x="237" y="1444.9" width="496" height="1.2" fill="#f00"/>
<rect x="248" y="1483.9" width="474" height="1.2" fill="#f00"/>
<polyline points="253,1266.5 250,1269.5 254,1271.5 258.5,1272.2 255,1274.5 254,1277.5" fill="none" stroke="#000" stroke-width="1.5" stroke-linecap="round" stroke-linejoin="round"/>
<polyline points="363,1266.5 359.5,1270 364.3,1272 367.5,1273.5 364.3,1275.5 363.5,1277.5" fill="none" stroke="#000" stroke-width="1.5" stroke-linecap="round" stroke-linejoin="round"/>
</svg></body></html>
